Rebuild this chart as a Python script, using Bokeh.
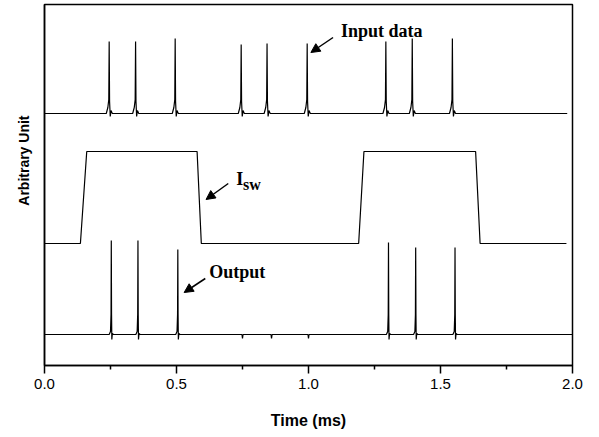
from bokeh.plotting import figure
from bokeh.models import Range1d, FixedTicker, Label, Arrow, NormalHead, NumeralTickFormatter, Title
from bokeh.embed import file_html
from bokeh.resources import INLINE

# ---- data (arbitrary units) ----
input_baseline = 252
input_peak_times = [0.245, 0.345, 0.495, 0.745, 0.843, 0.995, 1.293, 1.393, 1.545]
input_peak_heights = [324, 324, 327, 321, 322, 322, 324, 327, 327]
input_span = [0.0, 1.98]

isw_times = [0.0, 0.136, 0.160, 0.578, 0.594, 1.190, 1.210, 1.633, 1.650, 1.977]
isw_levels = [122, 122, 214, 214, 122, 122, 214, 214, 122, 122]

output_baseline = 31
output_peak_times = [0.253, 0.354, 0.505, 1.303, 1.406, 1.555]
output_peak_heights = [125, 125, 116, 123, 118, 118]
output_leak_times = [0.75, 0.86, 1.0]
output_leak_heights = [27, 27, 27]
output_span = [0.0, 2.0]

x_major_ticks = [0.0, 0.5, 1.0, 1.5, 2.0]
x_minor_ticks = [0.25, 0.75, 1.25, 1.75]

# spike drawing templates (shape only)
in_dt = [-0.011, -0.005, -0.0015, 0.0, 0.0015, 0.004, 0.007, 0.012]
in_dy = [0, 6, 14, None, 12, -3, 3, 0]
out_dt = [-0.008, -0.003, -0.001, 0.0, 0.001, 0.002, 0.004, 0.008]
out_dy = [0, 3, 20, None, 20, -5, 1, 0]
leak_dt = [-0.002, 0.0, 0.002]
leak_dy = [0, None, 0]


def spikes(base, times, heights, dts, dys):
    pts = []
    for t, h in zip(times, heights):
        pts.append([(t + dt, h if dy is None else base + dy) for dt, dy in zip(dts, dys)])
    return pts


def trace(span, base, groups):
    allpts = sorted([g for grp in groups for g in grp], key=lambda s: s[0][0])
    xs, ys = [span[0]], [base]
    for s in allpts:
        for x, y in s:
            xs.append(x)
            ys.append(y)
    xs.append(span[1])
    ys.append(base)
    return xs, ys


W, H = 599, 437
p = figure(width=W, height=H, output_backend="svg", toolbar_location=None,
           x_range=Range1d(0, 2), y_range=Range1d(0, 361),
           min_border_left=43, min_border_right=27, min_border_top=4, min_border_bottom=72)
p.grid.visible = False
p.background_fill_color = "white"
p.border_fill_color = "white"
p.outline_line_color = "black"
p.outline_line_width = 1.5

ix, iy = trace(input_span, input_baseline,
               [spikes(input_baseline, input_peak_times, input_peak_heights, in_dt, in_dy)])
p.line(ix, iy, line_color="black", line_width=1.2)

p.line(isw_times, isw_levels, line_color="black", line_width=1.2)

ox, oy = trace(output_span, output_baseline,
               [spikes(output_baseline, output_peak_times, output_peak_heights, out_dt, out_dy),
                spikes(output_baseline, output_leak_times, output_leak_heights, leak_dt, leak_dy)])
p.line(ox, oy, line_color="black", line_width=1.2)

# axes
xa = p.xaxis[0]
xa.ticker = FixedTicker(ticks=x_major_ticks, minor_ticks=x_minor_ticks)
xa.formatter = NumeralTickFormatter(format="0.0")
xa.axis_line_width = 1.5
xa.major_tick_line_width = 1.5
xa.minor_tick_line_width = 1.5
xa.major_tick_in = 0
xa.major_tick_out = 8
xa.minor_tick_in = 0
xa.minor_tick_out = 4
xa.major_label_standoff = 5
xa.major_label_text_font = "Liberation Sans"
xa.major_label_text_font_size = "15px"
xa.major_label_text_color = "black"
xa.axis_label = "Time (ms)"
xa.axis_label_text_font = "Liberation Sans"
xa.axis_label_text_font_style = "bold"
xa.axis_label_text_font_size = "16px"
xa.axis_label_text_color = "black"
xa.axis_label_standoff = 20

ya = p.yaxis[0]
ya.ticker = FixedTicker(ticks=[])
ya.axis_line_width = 1.5
ya.major_tick_line_color = None
ya.minor_tick_line_color = None
ya.major_tick_out = 0
ya.major_label_text_font_size = "0px"

p.add_layout(Title(text="Arbitrary Unit", align="right", offset=111, standoff=26,
                   text_font="Liberation Sans", text_font_style="bold",
                   text_font_size="14px", text_color="black"), "left")

serif = "Liberation Serif"
p.add_layout(Label(x=1.123, y=335, text="Input data", text_font=serif, text_font_style="bold",
                   text_font_size="18px", text_baseline="alphabetic", text_color="black"))
p.add_layout(Label(x=0.726, y=187, text="I", text_font=serif, text_font_style="bold",
                   text_font_size="18px", text_baseline="alphabetic", text_color="black"))
p.add_layout(Label(x=0.752, y=181, text="sw", text_font=serif, text_font_style="bold",
                   text_font_size="16px", text_baseline="alphabetic", text_color="black"))
p.add_layout(Label(x=0.624, y=94, text="Output", text_font=serif, text_font_style="bold",
                   text_font_size="18px", text_baseline="alphabetic", text_color="black"))

for xs, ys, xe, ye in [(1.093, 328, 1.009, 313), (0.696, 182, 0.612, 166), (0.609, 87, 0.529, 73)]:
    p.add_layout(Arrow(x_start=xs, y_start=ys, x_end=xe, y_end=ye, line_width=1.5, line_color="black",
                       end=NormalHead(size=9, fill_color="black", line_color="black")))

open("out.html", "w").write(file_html(p, INLINE))
